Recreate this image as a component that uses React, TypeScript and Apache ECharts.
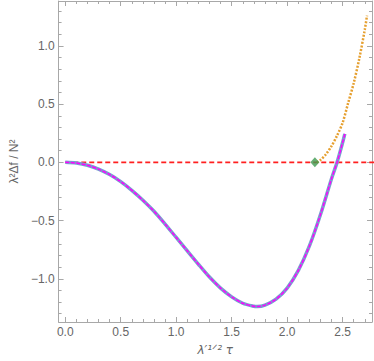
import React, { useEffect, useRef } from "react";
import * as echarts from "echarts";

const mainX = [0, 0.1, 0.2, 0.3, 0.4, 0.5, 0.6, 0.7, 0.8, 0.9, 1.0, 1.1, 1.2, 1.3, 1.4, 1.5, 1.6, 1.7, 1.73, 1.8, 1.9, 2.0, 2.1, 2.2, 2.3, 2.4, 2.45, 2.5, 2.52];
const mainY = [0, -0.006, -0.025, -0.058, -0.105, -0.165, -0.24, -0.325, -0.42, -0.53, -0.645, -0.76, -0.875, -0.985, -1.08, -1.155, -1.21, -1.236, -1.238, -1.226, -1.175, -1.08, -0.93, -0.72, -0.45, -0.14, 0.0, 0.17, 0.245];
const branchX = [2.266, 2.3, 2.35, 2.4, 2.45, 2.5, 2.55, 2.6, 2.65, 2.7, 2.72];
const branchY = [0, 0.02, 0.07, 0.14, 0.23, 0.34, 0.51, 0.68, 0.89, 1.14, 1.26];
const pointX = [2.25];
const pointY = [0];
const zeroLine = [[0, 0], [2.8, 0]];
const xMajor = [0, 0.5, 1.0, 1.5, 2.0, 2.5];
const yMajor = [-1.0, -0.5, 0.0, 0.5, 1.0];
const xMinor = [0.1, 0.2, 0.3, 0.4, 0.6, 0.7, 0.8, 0.9, 1.1, 1.2, 1.3, 1.4, 1.6, 1.7, 1.8, 1.9, 2.1, 2.2, 2.3, 2.4, 2.6, 2.7];
const yMinor = [-1.3, -1.2, -1.1, -0.9, -0.8, -0.7, -0.6, -0.4, -0.3, -0.2, -0.1, 0.1, 0.2, 0.3, 0.4, 0.6, 0.7, 0.8, 0.9, 1.1, 1.2, 1.3];

const X_MIN = -0.06, X_MAX = 2.765, Y_MIN = -1.371, Y_MAX = 1.386;
const FRAME = "#a8a8a8";
const LABEL = "#666666";
const fmt = (v: number) => (v < 0 ? "\u2212" + Math.abs(v).toFixed(1) : v.toFixed(1));

export default function App() {
  const ref = useRef<HTMLDivElement>(null);
  useEffect(() => {
    if (!ref.current) return;
    const chart = echarts.init(ref.current, undefined, { renderer: "svg" });
    const xAx = (position: string, major: boolean, showLabel: boolean, showLine: boolean, name?: string) => ({
      type: "value",
      position,
      min: X_MIN,
      max: X_MAX,
      name,
      nameLocation: "middle",
      nameGap: 22,
      nameTextStyle: { color: LABEL, fontSize: 12, fontFamily: "DejaVu Sans", fontStyle: "italic" },
      axisLine: { show: showLine, onZero: false, lineStyle: { color: FRAME, width: 1 } },
      axisTick: { show: true, inside: true, length: major ? 5 : 3, customValues: major ? xMajor : xMinor, lineStyle: { color: FRAME } },
      axisLabel: { show: showLabel, customValues: xMajor, formatter: fmt, color: LABEL, fontSize: 12, margin: 4, fontFamily: "Liberation Sans" },
      splitLine: { show: false },
    });
    const yAx = (position: string, major: boolean, showLabel: boolean, showLine: boolean, name?: string) => ({
      type: "value",
      position,
      min: Y_MIN,
      max: Y_MAX,
      name,
      nameLocation: "middle",
      nameGap: 35,
      nameTextStyle: { color: LABEL, fontSize: 12, fontFamily: "Liberation Sans" },
      axisLine: { show: showLine, onZero: false, lineStyle: { color: FRAME, width: 1 } },
      axisTick: { show: true, inside: true, length: major ? 5 : 3, customValues: major ? yMajor : yMinor, lineStyle: { color: FRAME } },
      axisLabel: { show: showLabel, customValues: yMajor, formatter: fmt, color: LABEL, fontSize: 12, margin: 4, fontFamily: "Liberation Sans" },
      splitLine: { show: false },
    });
    chart.setOption({
      animation: false,
      backgroundColor: "#ffffff",
      grid: { left: 49, right: 2, top: 1, bottom: 38, containLabel: false },
      xAxis: [
        xAx("bottom", true, true, true, "\u03bb\u2032\u00b9\u141f\u00b2 \u03c4"),
        xAx("bottom", false, false, false),
        xAx("top", true, false, true),
        xAx("top", false, false, false),
      ],
      yAxis: [
        yAx("left", true, true, true, "\u03bb\u00b2\u0394f / N\u00b2"),
        yAx("left", false, false, false),
        yAx("right", true, false, true),
        yAx("right", false, false, false),
      ],
      series: [
        {
          type: "line",
          data: zeroLine,
          showSymbol: false,
          lineStyle: { color: "#ff2020", width: 1.6, type: [5, 3] },
          z: 1,
        },
        {
          type: "line",
          data: mainX.map((x, i) => [x, mainY[i]]),
          smooth: 0.3,
          showSymbol: false,
          lineStyle: { color: "#7a9fd0", width: 3.5 },
          z: 2,
        },
        {
          type: "line",
          data: mainX.map((x, i) => [x, mainY[i]]),
          smooth: 0.3,
          showSymbol: false,
          lineStyle: { color: "#ff00ff", width: 1.5, type: [4, 1.5] },
          z: 3,
        },
        {
          type: "line",
          data: branchX.map((x, i) => [x, branchY[i]]),
          smooth: 0.3,
          showSymbol: false,
          lineStyle: { color: "#e6a030", width: 2.5, type: [2, 1.5] },
          z: 3,
        },
        {
          type: "scatter",
          data: pointX.map((x, i) => [x, pointY[i]]),
          symbol: "diamond",
          symbolSize: [9, 10],
          itemStyle: { color: "#3e9a50" },
          z: 4,
        },
      ],
    });
    return () => chart.dispose();
  }, []);
  return <div ref={ref} style={{ width: 374, height: 361, position: "absolute", left: 0, top: 0 }} />;
}
